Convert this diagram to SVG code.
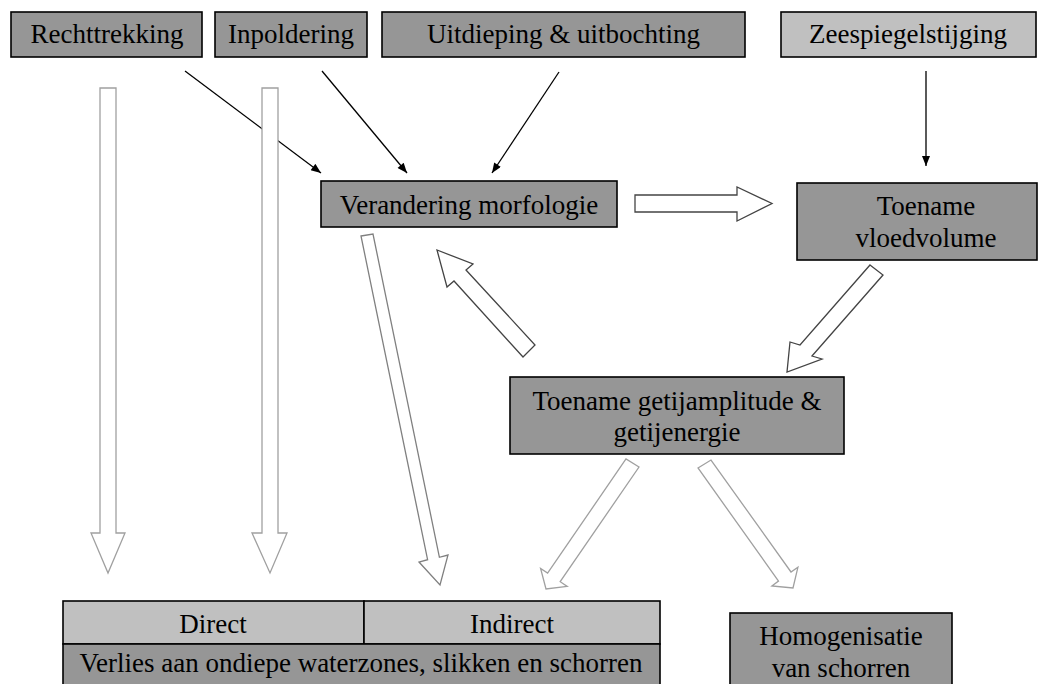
<svg xmlns="http://www.w3.org/2000/svg" width="1040" height="684" viewBox="0 0 1040 684">
<defs>
<style>
.box{stroke:#000;stroke-width:1.6}
.dk{fill:#969696}
.lt{fill:#c0c0c0}
text{font-family:"Liberation Serif","Times New Roman","DejaVu Serif",serif;font-size:27px;fill:#000;text-anchor:middle}
.thin{stroke:#000;stroke-width:1.3;fill:none;marker-end:url(#ah)}
.hol{fill:#fff;stroke-width:1.3;stroke-linejoin:miter}
.g1{stroke:#a0a0a0}
.g2{stroke:#808080}
.g3{stroke:#444}
</style>
<marker id="ah" viewBox="0 0 10 8" refX="10" refY="4" markerWidth="11" markerHeight="8" markerUnits="userSpaceOnUse" orient="auto">
<path d="M0,0 L10,4 L0,8 Z" fill="#000"/>
</marker>
</defs>
<rect width="1040" height="684" fill="#fff"/>

<g id="connectors">
<line class="thin" x1="185" y1="71" x2="321" y2="173"/>
<line class="thin" x1="322" y1="71" x2="407" y2="173"/>
<line class="thin" x1="559" y1="72" x2="492" y2="173"/>
<line class="thin" x1="926" y1="71" x2="926" y2="166"/>
<polygon class="hol g1" points="100,88 116,88 116,533 125,533 108,573 91,533 100,533"/>
<polygon class="hol g1" points="262,88 278,88 278,533 287,533 270,573 252,533 262,533"/>
<polygon class="hol g2" points="361,236 373,234 439.4,557.3 448,555 440,585 419,562 427.6,559.7"/>
<polygon class="hol g3" points="635,195 737,195 737,187 772,203.5 737,221 737,212 635,212"/>
<polygon class="hol g3" points="870,265 883,275 812,356 822,359 787,372 790,342 800,345"/>
<polygon class="hol g3" points="523,357 535,345 466,270 473,264 437,250 447,287 454,281"/>
<polygon class="hol g1" points="639,467 626,459 547.6,573.1 540.6,568.4 546,589 567.2,586.4 560.2,581.7"/>
<polygon class="hol g1" points="698,468 711,460 791,572 797.9,567.3 793,588 771.9,585.9 778.5,581"/>
</g>

<g id="rechttrekking">
<rect class="box dk" x="11" y="12" width="191" height="45"/>
<text x="107" y="43">Rechttrekking</text>
</g>
<g id="inpoldering">
<rect class="box dk" x="215" y="12" width="152" height="45"/>
<text x="291" y="43">Inpoldering</text>
</g>
<g id="uitdieping">
<rect class="box dk" x="382" y="12" width="363" height="45"/>
<text x="563.5" y="43">Uitdieping &amp; uitbochting</text>
</g>
<g id="zeespiegelstijging">
<rect class="box lt" x="781" y="12" width="255" height="45"/>
<text x="908" y="43">Zeespiegelstijging</text>
</g>
<g id="verandering-morfologie">
<rect class="box dk" x="321" y="181" width="296" height="46"/>
<text x="469" y="214">Verandering morfologie</text>
</g>
<g id="toename-vloedvolume">
<rect class="box dk" x="797" y="183" width="240" height="77"/>
<text x="926" y="215">Toename</text>
<text x="926" y="247">vloedvolume</text>
</g>
<g id="toename-getijamplitude">
<rect class="box dk" x="510" y="377" width="334" height="77"/>
<text x="677" y="410">Toename getijamplitude &amp;</text>
<text x="677" y="441">getijenergie</text>
</g>
<g id="verlies">
<rect class="box lt" x="63" y="601" width="301" height="43"/>
<rect class="box lt" x="364" y="601" width="296" height="43"/>
<rect class="box dk" x="63" y="644" width="597" height="45"/>
<text x="213" y="633">Direct</text>
<text x="512" y="633">Indirect</text>
<text x="361" y="672">Verlies aan ondiepe waterzones, slikken en schorren</text>
</g>
<g id="homogenisatie">
<rect class="box dk" x="730" y="613" width="222" height="80"/>
<text x="841" y="645">Homogenisatie</text>
<text x="841" y="677">van schorren</text>
</g>
</svg>
